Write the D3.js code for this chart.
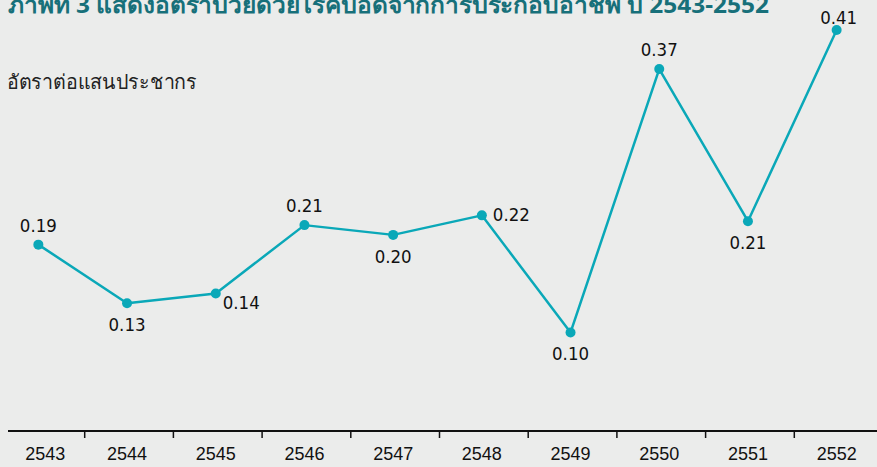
<!DOCTYPE html>
<html><head><meta charset="utf-8">
<script src="https://cdn.jsdelivr.net/npm/d3@7"></script>
<style>
html,body{margin:0;padding:0;background:#ebeceb;}
svg{display:block;}
</style></head>
<body>
<script>
const years = ["2543","2544","2545","2546","2547","2548","2549","2550","2551","2552"];
const rates = [0.19,0.13,0.14,0.21,0.20,0.22,0.10,0.37,0.214,0.41];
const labelPlacement = ["above","below","right","above","below","right","below","above","below","top"];
const titleText = "ภาพที่ 3 แสดงอัตราป่วยด้วยโรคปอดจากการประกอบอาชีพ ปี 2543-2552";
const yAxisTitle = "อัตราต่อแสนประชากร";

const W = 877, H = 467;
const svg = d3.select("body").append("svg").attr("width", W).attr("height", H);
svg.append("rect").attr("width", W).attr("height", H).attr("fill", "#ebeceb");

const x = d3.scaleBand().domain(years).range([-6, 881]).padding(0);
const y = d3.scaleLinear().domain([0, 0.41]).range([430, 30]);
const cx = d => x(d) + x.bandwidth()/2;

// title (partly cut at top, as in the reference)
svg.append("text").attr("x", 8).attr("y", 13)
  .attr("font-family", "'Noto Sans', 'DejaVu Sans', sans-serif")
  .attr("font-size", 23).attr("font-weight", "bold")
  .attr("textLength", 761).attr("lengthAdjust", "spacingAndGlyphs")
  .attr("fill", "#17707a").text(titleText);

svg.append("text").attr("x", 7).attr("y", 89)
  .attr("font-family", "'Noto Sans', 'DejaVu Sans', sans-serif")
  .attr("font-size", 20).attr("fill", "#222")
  .attr("textLength", 190).attr("lengthAdjust", "spacingAndGlyphs")
  .text(yAxisTitle);

// x axis
const axisY = 431;
svg.append("line").attr("x1", 8).attr("x2", W).attr("y1", axisY).attr("y2", axisY)
  .attr("stroke", "#111").attr("stroke-width", 2);
const tickYears = years.slice(0, -1);
svg.selectAll(".tick").data(tickYears).enter().append("line")
  .attr("x1", d => x(d) + x.bandwidth() + 2).attr("x2", d => x(d) + x.bandwidth() + 2)
  .attr("y1", axisY).attr("y2", axisY + 7).attr("stroke", "#111").attr("stroke-width", 1.5);
svg.selectAll(".xl").data(years).enter().append("text")
  .attr("x", (d,i) => cx(d) + (i===0 ? 7 : 0)).attr("y", 460)
  .attr("text-anchor", "middle")
  .attr("font-family", "'Liberation Sans Narrow', 'Liberation Sans', sans-serif")
  .attr("font-size", 18).attr("fill", "#111")
  .attr("textLength", 40).attr("lengthAdjust", "spacingAndGlyphs")
  .text(d => d);

// line
const color = "#0aa8b8";
const line = d3.line().x((d,i) => cx(years[i])).y(d => y(d));
svg.append("path").datum(rates).attr("d", line)
  .attr("fill", "none").attr("stroke", color).attr("stroke-width", 2.5)
  .attr("stroke-linejoin", "round");
svg.selectAll(".pt").data(rates).enter().append("circle")
  .attr("cx", (d,i) => cx(years[i])).attr("cy", d => y(d)).attr("r", 5)
  .attr("fill", color);

// value labels
svg.selectAll(".vl").data(rates).enter().append("text")
  .attr("font-family", "'DejaVu Sans', 'Noto Sans', sans-serif")
  .attr("font-size", 17).attr("fill", "#111")
  .attr("textLength", 37).attr("lengthAdjust", "spacingAndGlyphs")
  .attr("text-anchor", (d,i) => labelPlacement[i] === "right" ? "start" : "middle")
  .attr("x", (d,i) => {
    const p = labelPlacement[i], px = cx(years[i]);
    if (p === "right") return px + (i === 5 ? 11 : 7);
    if (p === "top") return px + 2;
    return px;
  })
  .attr("y", (d,i) => {
    const p = labelPlacement[i], py = y(d);
    if (p === "above") return py - 13;
    if (p === "top") return py - 6;
    if (p === "below") return py + 28;
    return py + (i === 5 ? 6 : 16);
  })
  .text(d => d.toFixed(2));
</script>
</body></html>
